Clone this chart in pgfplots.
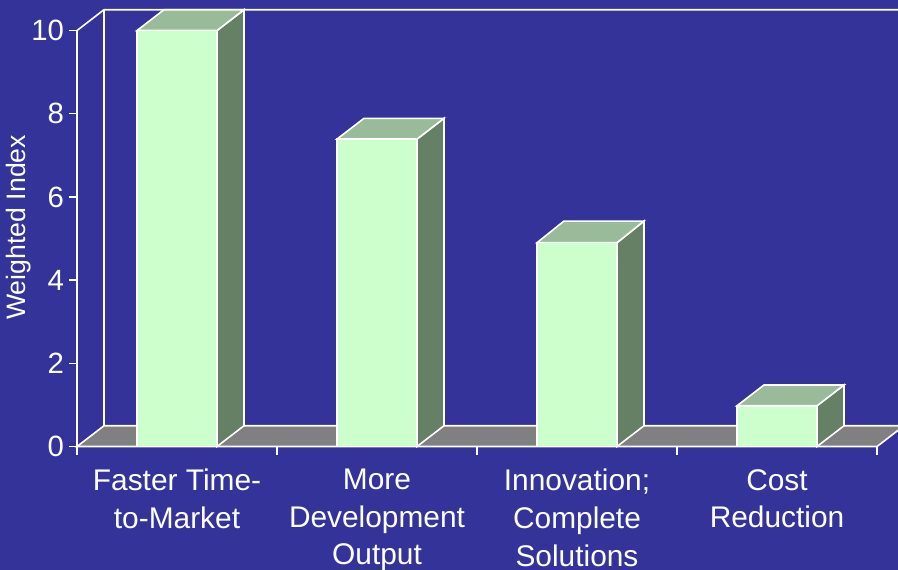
\documentclass[border=0pt]{standalone}
\usepackage{fontspec}
\setmainfont{Liberation Sans}
\usepackage{pgfplots}
\pgfplotsset{compat=1.18}
\definecolor{bgblue}{HTML}{333399}
\definecolor{barfront}{HTML}{CCFFCC}
\definecolor{bartop}{HTML}{99BB99}
\definecolor{barside}{HTML}{668066}
\definecolor{floorgray}{HTML}{808080}
% 1 px of the reference = 0.75pt
\begin{document}
\begin{tikzpicture}
\useasboundingbox (0,0) rectangle (673.5pt,427.5pt);
\fill[bgblue] (0,0) rectangle (673.5pt,427.5pt);
\clip (0,0) rectangle (673.5pt,427.5pt);
\begin{axis}[
    at={(57.75pt,92.6pt)},
    anchor=south west,
    scale only axis,
    width=600pt,
    height=312pt,
    xmin=0, xmax=4,
    ymin=0, ymax=10,
    axis x line*=bottom,
    axis y line*=left,
    clip=false,
    axis line style={white, line width=1.2pt, -},
    tick style={white, line width=1.1pt},
    tick align=outside,
    major tick length=6pt,
    xtick={0,1,2,3,4},
    xticklabels={},
    extra x ticks={0.5,1.5,2.5,3.5},
    extra x tick labels={{Faster Time-\\to-Market},{More\\Development\\Output},{Innovation;\\Complete\\Solutions},{Cost\\Reduction}},
    extra x tick style={major tick length=0pt},
    xticklabel style={white, align=center, font=\fontsize{22.4}{28.2}\selectfont, yshift=-13.5pt, anchor=north},
    ytick={0,2,4,6,8,10},
    yticklabel style={white, font=\fontsize{22}{25}\selectfont, xshift=-0.3pt},
    /pgf/number format/assume math mode=true,
    ylabel={Weighted Index},
    ylabel style={white, font=\fontsize{20}{24}\selectfont, at={(axis description cs:-0.0735,0.527)}, anchor=center},
]
% floor and back wall
\addplot[draw=white, line width=1.2pt, fill=floorgray] coordinates {(0,0) (0.135,0.5) (4.135,0.5) (4,0)} -- cycle;
\addplot[white, line width=1.2pt] coordinates {(0,10) (0.135,10.5) (4.3,10.5)};
\addplot[white, line width=1.2pt] coordinates {(0.135,0.5) (0.135,10.5)};
% bar 1
\addplot[draw=white, line width=1.2pt, fill=barside] coordinates {(0.7,0) (0.835,0.5) (0.835,10.5) (0.7,10)} -- cycle;
\addplot[draw=white, line width=1.2pt, fill=bartop] coordinates {(0.3,10) (0.435,10.5) (0.835,10.5) (0.7,10)} -- cycle;
\addplot[draw=white, line width=1.2pt, fill=barfront] coordinates {(0.3,0) (0.3,10) (0.7,10) (0.7,0)} -- cycle;
% bar 2
\addplot[draw=white, line width=1.2pt, fill=barside] coordinates {(1.7,0) (1.835,0.5) (1.835,7.89) (1.7,7.39)} -- cycle;
\addplot[draw=white, line width=1.2pt, fill=bartop] coordinates {(1.3,7.39) (1.435,7.89) (1.835,7.89) (1.7,7.39)} -- cycle;
\addplot[draw=white, line width=1.2pt, fill=barfront] coordinates {(1.3,0) (1.3,7.39) (1.7,7.39) (1.7,0)} -- cycle;
% bar 3
\addplot[draw=white, line width=1.2pt, fill=barside] coordinates {(2.7,0) (2.835,0.5) (2.835,5.42) (2.7,4.9)} -- cycle;
\addplot[draw=white, line width=1.2pt, fill=bartop] coordinates {(2.3,4.9) (2.435,5.42) (2.835,5.42) (2.7,4.9)} -- cycle;
\addplot[draw=white, line width=1.2pt, fill=barfront] coordinates {(2.3,0) (2.3,4.9) (2.7,4.9) (2.7,0)} -- cycle;
% bar 4
\addplot[draw=white, line width=1.2pt, fill=barside] coordinates {(3.7,0) (3.835,0.5) (3.835,1.48) (3.7,0.98)} -- cycle;
\addplot[draw=white, line width=1.2pt, fill=bartop] coordinates {(3.3,0.98) (3.435,1.48) (3.835,1.48) (3.7,0.98)} -- cycle;
\addplot[draw=white, line width=1.2pt, fill=barfront] coordinates {(3.3,0) (3.3,0.98) (3.7,0.98) (3.7,0)} -- cycle;
\end{axis}
\end{tikzpicture}
\end{document}
